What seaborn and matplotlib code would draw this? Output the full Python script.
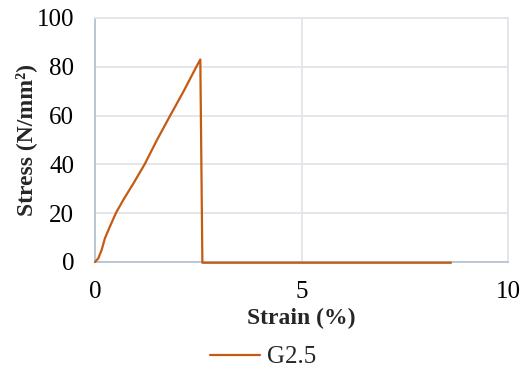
import matplotlib
matplotlib.use("Agg")
import matplotlib.pyplot as plt
import seaborn as sns
import pandas as pd

strain = [0, 0.08, 0.16, 0.24, 0.36, 0.51, 0.69, 0.93, 1.2, 1.5, 1.82, 2.14, 2.46, 2.55, 2.60, 8.62]
stress = [0, 1.5, 4.9, 9.7, 14.5, 20.2, 25.6, 32.2, 40, 50, 60, 69.8, 80.2, 83, -0.3, -0.3]
series_name = "G2.5"
x_ticks = [0, 5, 10]
y_ticks = [0, 20, 40, 60, 80, 100]

df = pd.DataFrame({"Strain": strain, "Stress": stress, "Series": series_name})

sns.set_theme(style="white")
plt.rcParams["font.family"] = ["Liberation Serif", "DejaVu Serif"]

fig = plt.figure(figsize=(5.26, 3.70), dpi=100)
ax = fig.add_axes([95/526, 1-262/370, (508-95)/526, (262-18)/370])

sns.lineplot(data=df, x="Strain", y="Stress", hue="Series", palette=["#c55a11"],
             sort=False, estimator=None, linewidth=1.6, ax=ax, legend=True, zorder=3)
for ln in ax.lines:
    ln.set_clip_on(False)

ax.set_xlim(0, 10)
ax.set_ylim(0, 100)
ax.set_xticks(x_ticks)
ax.set_yticks(y_ticks)
ax.set_xticklabels([str(v) for v in x_ticks], fontsize=18)
ax.set_yticklabels([str(v) for v in y_ticks], fontsize=18)
ax.tick_params(axis="both", length=0, colors="black")
ax.tick_params(axis="x", pad=14)
ax.tick_params(axis="y", pad=15)
ax.grid(True, color="#e1e5eb", linewidth=1.3, zorder=0)
ax.set_axisbelow(True)
for s in ["top", "right"]:
    ax.spines[s].set_color("#e1e5eb")
    ax.spines[s].set_linewidth(1.3)
for s in ["left", "bottom"]:
    ax.spines[s].set_color("#b7c3d3")
    ax.spines[s].set_linewidth(1.3)

ax.set_xlabel("Strain (%)", fontsize=17, fontweight="bold", labelpad=3)
ax.set_ylabel("Stress (N/mm²)", fontsize=17, fontweight="bold", labelpad=0)

ax.get_legend().remove()
handles, labels = ax.get_legend_handles_labels()
fig.legend(handles, labels, loc="center", bbox_to_anchor=(263/526, 1-357/370),
           frameon=False, fontsize=18, handlelength=2.0, handletextpad=0.3)

fig.savefig("out.png", dpi=100)
